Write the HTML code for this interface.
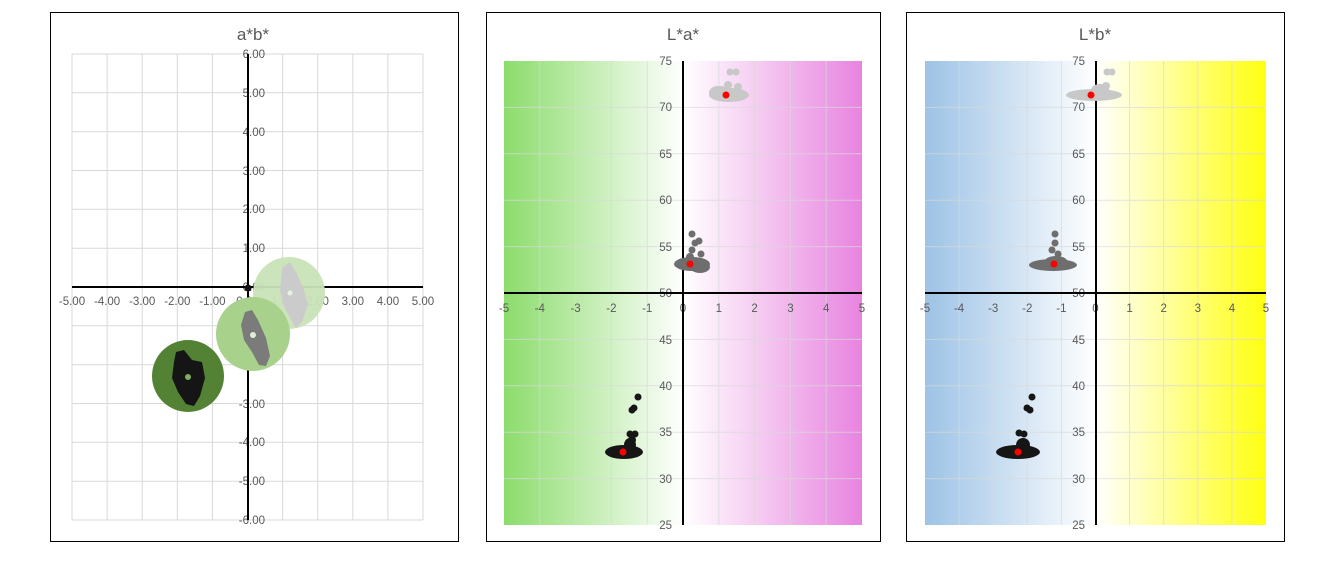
<!DOCTYPE html>
<html><head><meta charset="utf-8"><style>
body{margin:0;background:#fff;width:1320px;height:566px;overflow:hidden}
svg{font-family:"Liberation Sans",sans-serif}
.t{fill:#595959;font-size:11.5px}
.ti{fill:#595959;font-size:17px;text-anchor:middle}
.g line{stroke:#d9d9d9;stroke-width:1}
</style></head><body>
<svg width="1320" height="566" viewBox="0 0 1320 566">
<defs>
<linearGradient id="ga" x1="0" x2="1" y1="0" y2="0"><stop offset="0" stop-color="#8cdc6c"/><stop offset="0.5" stop-color="#fff"/><stop offset="1" stop-color="#e884e0"/></linearGradient>
<linearGradient id="gb" x1="0" x2="1" y1="0" y2="0"><stop offset="0" stop-color="#9dc3e6"/><stop offset="0.5" stop-color="#fff"/><stop offset="1" stop-color="#ffff10"/></linearGradient>
</defs>
<rect x="0" y="0" width="1320" height="566" fill="#fff"/>
<!-- Chart 1 -->
<rect x="50.5" y="12.5" width="408" height="529" fill="#fff" stroke="#000"/>
<text class="ti" x="253" y="40">a*b*</text>
<g class="g">
<line x1="72" x2="72" y1="54" y2="520"/><line x1="107.1" x2="107.1" y1="54" y2="520"/><line x1="142.2" x2="142.2" y1="54" y2="520"/><line x1="177.3" x2="177.3" y1="54" y2="520"/><line x1="212.4" x2="212.4" y1="54" y2="520"/><line x1="282.6" x2="282.6" y1="54" y2="520"/><line x1="317.7" x2="317.7" y1="54" y2="520"/><line x1="352.8" x2="352.8" y1="54" y2="520"/><line x1="387.9" x2="387.9" y1="54" y2="520"/><line x1="423" x2="423" y1="54" y2="520"/>
<line x1="72" x2="423" y1="54" y2="54"/><line x1="72" x2="423" y1="92.8" y2="92.8"/><line x1="72" x2="423" y1="131.7" y2="131.7"/><line x1="72" x2="423" y1="170.5" y2="170.5"/><line x1="72" x2="423" y1="209.3" y2="209.3"/><line x1="72" x2="423" y1="248.2" y2="248.2"/><line x1="72" x2="423" y1="325.8" y2="325.8"/><line x1="72" x2="423" y1="364.7" y2="364.7"/><line x1="72" x2="423" y1="403.5" y2="403.5"/><line x1="72" x2="423" y1="442.3" y2="442.3"/><line x1="72" x2="423" y1="481.2" y2="481.2"/><line x1="72" x2="423" y1="520" y2="520"/>
</g>
<g class="t" text-anchor="end">
<text x="265" y="58">6.00</text><text x="265" y="97">5.00</text><text x="265" y="136">4.00</text><text x="265" y="175">3.00</text><text x="265" y="213">2.00</text><text x="265" y="252">1.00</text><text x="265" y="291">0.00</text><text x="265" y="330">-1.00</text><text x="265" y="369">-2.00</text><text x="265" y="408">-3.00</text><text x="265" y="446">-4.00</text><text x="265" y="485">-5.00</text><text x="265" y="524">-6.00</text>
</g>
<g class="t" text-anchor="middle">
<text x="72" y="305">-5.00</text><text x="107.1" y="305">-4.00</text><text x="142.2" y="305">-3.00</text><text x="177.3" y="305">-2.00</text><text x="212.4" y="305">-1.00</text><text x="247.5" y="305">0.00</text><text x="282.6" y="305">1.00</text><text x="317.7" y="305">2.00</text><text x="352.8" y="305">3.00</text><text x="387.9" y="305">4.00</text><text x="423" y="305">5.00</text>
</g>
<line x1="72" x2="423" y1="287" y2="287" stroke="#000" stroke-width="2"/>
<line x1="248" x2="248" y1="54" y2="520" stroke="#000" stroke-width="2"/>
<circle cx="248" cy="288" r="3.5" fill="#111"/>
<circle cx="289" cy="293" r="36" fill="#c9e3b8" opacity="0.95"/>
<path d="M282 268 L290 262 L296 272 L304 290 L308 305 L302 322 L296 328 L290 318 L284 306 L280 290 Z" fill="#cbcbcb"/>
<circle cx="290" cy="293" r="2.5" fill="#e8f2e0"/>
<circle cx="253" cy="334" r="37" fill="#a8d18c"/>
<path d="M245 312 L252 310 L258 320 L266 338 L270 356 L266 366 L259 365 L252 352 L244 340 L241 325 Z" fill="#7b7b7b"/>
<circle cx="253" cy="335" r="3" fill="#e0eed8"/>
<circle cx="188" cy="376" r="36" fill="#548235"/>
<path d="M176 352 L184 350 L192 360 L202 362 L205 378 L200 396 L194 406 L186 404 L178 392 L172 378 L174 362 Z" fill="#151515"/>
<circle cx="188" cy="377" r="3" fill="#7fae5c"/>
<!-- Chart 2 -->
<rect x="486.5" y="12.5" width="394" height="529" fill="#fff" stroke="#000"/>
<text class="ti" x="683" y="40">L*a*</text>
<rect x="504" y="61" width="358" height="464" fill="url(#ga)"/>
<g class="g" opacity="0.7">
<line x1="539.8" x2="539.8" y1="61" y2="525"/><line x1="575.6" x2="575.6" y1="61" y2="525"/><line x1="611.4" x2="611.4" y1="61" y2="525"/><line x1="647.2" x2="647.2" y1="61" y2="525"/><line x1="718.8" x2="718.8" y1="61" y2="525"/><line x1="754.6" x2="754.6" y1="61" y2="525"/><line x1="790.4" x2="790.4" y1="61" y2="525"/><line x1="826.2" x2="826.2" y1="61" y2="525"/>
<line x1="504" x2="862" y1="107.4" y2="107.4"/><line x1="504" x2="862" y1="153.8" y2="153.8"/><line x1="504" x2="862" y1="200.2" y2="200.2"/><line x1="504" x2="862" y1="246.6" y2="246.6"/><line x1="504" x2="862" y1="339.4" y2="339.4"/><line x1="504" x2="862" y1="385.8" y2="385.8"/><line x1="504" x2="862" y1="432.2" y2="432.2"/><line x1="504" x2="862" y1="478.6" y2="478.6"/>
</g>
<g class="t" text-anchor="end">
<text x="672" y="65">75</text><text x="672" y="111">70</text><text x="672" y="158">65</text><text x="672" y="204">60</text><text x="672" y="251">55</text><text x="672" y="297">50</text><text x="672" y="344">45</text><text x="672" y="390">40</text><text x="672" y="436">35</text><text x="672" y="483">30</text><text x="672" y="529">25</text>
</g>
<g class="t" text-anchor="middle">
<text x="504" y="312">-5</text><text x="539.8" y="312">-4</text><text x="575.6" y="312">-3</text><text x="611.4" y="312">-2</text><text x="647.2" y="312">-1</text><text x="683" y="312">0</text><text x="718.8" y="312">1</text><text x="754.6" y="312">2</text><text x="790.4" y="312">3</text><text x="826.2" y="312">4</text><text x="862" y="312">5</text>
</g>
<line x1="504" x2="862" y1="293" y2="293" stroke="#000" stroke-width="2"/>
<line x1="683" x2="683" y1="61" y2="525" stroke="#000" stroke-width="2"/>
<g fill="#c8c8c8"><ellipse cx="729" cy="95" rx="20" ry="7"/><ellipse cx="718" cy="93" rx="9" ry="7"/><circle cx="730" cy="72" r="3.5"/><circle cx="736" cy="72" r="3.5"/><circle cx="728" cy="85" r="4"/><circle cx="738" cy="87" r="4"/><circle cx="722" cy="90" r="4"/></g>
<circle cx="726" cy="95" r="3.5" fill="#f00"/>
<g fill="#6e6e6e"><ellipse cx="692" cy="264" rx="18" ry="7"/><ellipse cx="700" cy="267" rx="10" ry="6"/><circle cx="692" cy="234" r="3.5"/><circle cx="695" cy="243" r="3.5"/><circle cx="699" cy="241" r="3.5"/><circle cx="692" cy="250" r="3.5"/><circle cx="701" cy="254" r="3.5"/><circle cx="690" cy="257" r="4"/></g>
<circle cx="690" cy="264" r="3.5" fill="#f00"/>
<g fill="#161616"><ellipse cx="624" cy="452" rx="19" ry="7"/><ellipse cx="630" cy="445" rx="6" ry="7"/><circle cx="638" cy="397" r="3.5"/><circle cx="634" cy="408" r="3.5"/><circle cx="632" cy="410" r="3.5"/><circle cx="630" cy="434" r="3.5"/><circle cx="635" cy="434" r="3.5"/><circle cx="632" cy="440" r="4"/></g>
<circle cx="623" cy="452" r="3.5" fill="#f00"/>
<!-- Chart 3 -->
<rect x="906.5" y="12.5" width="378" height="529" fill="#fff" stroke="#000"/>
<text class="ti" x="1095" y="40">L*b*</text>
<rect x="925" y="61" width="341" height="464" fill="url(#gb)"/>
<g class="g" opacity="0.7">
<line x1="959.1" x2="959.1" y1="61" y2="525"/><line x1="993.2" x2="993.2" y1="61" y2="525"/><line x1="1027.3" x2="1027.3" y1="61" y2="525"/><line x1="1061.4" x2="1061.4" y1="61" y2="525"/><line x1="1129.6" x2="1129.6" y1="61" y2="525"/><line x1="1163.7" x2="1163.7" y1="61" y2="525"/><line x1="1197.8" x2="1197.8" y1="61" y2="525"/><line x1="1231.9" x2="1231.9" y1="61" y2="525"/>
<line x1="925" x2="1266" y1="107.4" y2="107.4"/><line x1="925" x2="1266" y1="153.8" y2="153.8"/><line x1="925" x2="1266" y1="200.2" y2="200.2"/><line x1="925" x2="1266" y1="246.6" y2="246.6"/><line x1="925" x2="1266" y1="339.4" y2="339.4"/><line x1="925" x2="1266" y1="385.8" y2="385.8"/><line x1="925" x2="1266" y1="432.2" y2="432.2"/><line x1="925" x2="1266" y1="478.6" y2="478.6"/>
</g>
<g class="t" text-anchor="end">
<text x="1085" y="65">75</text><text x="1085" y="111">70</text><text x="1085" y="158">65</text><text x="1085" y="204">60</text><text x="1085" y="251">55</text><text x="1085" y="297">50</text><text x="1085" y="344">45</text><text x="1085" y="390">40</text><text x="1085" y="436">35</text><text x="1085" y="483">30</text><text x="1085" y="529">25</text>
</g>
<g class="t" text-anchor="middle">
<text x="925" y="312">-5</text><text x="959.1" y="312">-4</text><text x="993.2" y="312">-3</text><text x="1027.3" y="312">-2</text><text x="1061.4" y="312">-1</text><text x="1095.5" y="312">0</text><text x="1129.6" y="312">1</text><text x="1163.7" y="312">2</text><text x="1197.8" y="312">3</text><text x="1231.9" y="312">4</text><text x="1266" y="312">5</text>
</g>
<line x1="925" x2="1266" y1="293" y2="293" stroke="#000" stroke-width="2"/>
<line x1="1096" x2="1096" y1="61" y2="525" stroke="#000" stroke-width="2"/>
<g fill="#c8c8c8"><ellipse cx="1094" cy="95" rx="28" ry="6"/><ellipse cx="1100" cy="90" rx="9" ry="6"/><circle cx="1107" cy="72" r="3.5"/><circle cx="1112" cy="72" r="3.5"/><circle cx="1106" cy="86" r="4"/></g>
<circle cx="1091" cy="95" r="3.5" fill="#f00"/>
<g fill="#6e6e6e"><ellipse cx="1053" cy="265" rx="24" ry="6"/><ellipse cx="1056" cy="261" rx="11" ry="5"/><circle cx="1055" cy="234" r="3.5"/><circle cx="1055" cy="243" r="3.5"/><circle cx="1052" cy="250" r="3.5"/><circle cx="1058" cy="254" r="3.5"/></g>
<circle cx="1054" cy="264" r="3.5" fill="#f00"/>
<g fill="#161616"><ellipse cx="1018" cy="452" rx="22" ry="7"/><ellipse cx="1023" cy="445" rx="7" ry="7"/><circle cx="1032" cy="397" r="3.5"/><circle cx="1027" cy="408" r="3.5"/><circle cx="1030" cy="410" r="3.5"/><circle cx="1019" cy="433" r="3.5"/><circle cx="1024" cy="434" r="3.5"/></g>
<circle cx="1018" cy="452" r="3.5" fill="#f00"/>
</svg>
</body></html>
